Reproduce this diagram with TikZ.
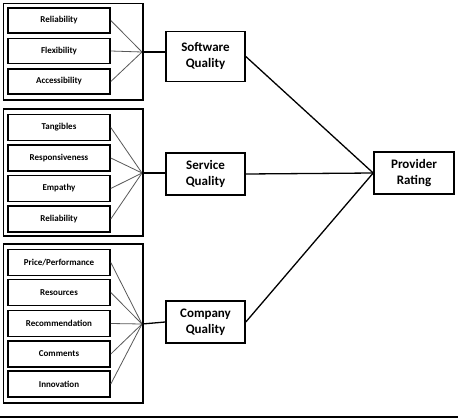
\documentclass[tikz,border=0pt]{standalone}
\usepackage{fontspec}
\setmainfont{Carlito}
\begin{document}
\begin{tikzpicture}[x=1pt,y=-1pt,
  item/.style={draw, line width=1.6pt, minimum width=102pt, minimum height=25pt, inner sep=0pt, font=\bfseries\fontsize{9}{10}\selectfont},
  grp/.style={draw, line width=1.2pt},
  qual/.style={draw, line width=1.6pt, minimum width=79pt, minimum height=42pt, align=center, inner sep=0pt, font=\bfseries\fontsize{13}{16}\selectfont},
  thinlink/.style={draw=black!65, line width=0.8pt},
  link/.style={draw, line width=1.3pt}]
\useasboundingbox (0,0) rectangle (458,418);
\fill[white] (0,0) rectangle (458,418);
% group frames
\draw[grp] (3.5,3.5) rectangle (143,100);
\draw[grp] (3.5,109) rectangle (143,236);
\draw[grp] (3.5,244) rectangle (143,403);
% items group 1
\node[item] (a1) at (59,20.5) {Reliability};
\node[item] (a2) at (59,51) {Flexibility};
\node[item] (a3) at (59,81.5) {Accessibility};
% items group 2
\node[item, minimum height=26pt] (b1) at (59,127.5) {Tangibles};
\node[item, minimum height=26pt] (b2) at (59,158) {Responsiveness};
\node[item, minimum height=26pt] (b3) at (59,188.5) {Empathy};
\node[item, minimum height=26pt] (b4) at (59,219) {Reliability};
% items group 3
\node[item, minimum height=26pt] (c1) at (59,262.5) {Price/Performance};
\node[item, minimum height=26pt] (c2) at (59,292.5) {Resources};
\node[item, minimum height=26pt] (c3) at (59,323.5) {Recommendation};
\node[item, minimum height=26pt] (c4) at (59,354) {Comments};
\node[item, minimum height=26pt] (c5) at (59,384) {Innovation};
% quality boxes
\node[qual, minimum height=50pt] (sw) at (205.5,56.5) {Software\\Quality};
\node[qual] (sv) at (205.5,174) {Service\\Quality};
\node[qual] (cq) at (205.5,322) {Company\\Quality};
\node[qual, minimum width=80pt] (pr) at (414,173) {Provider\\Rating};
% convergence points
\coordinate (p1) at (142,52);
\coordinate (p2) at (142,173);
\coordinate (p3) at (142,324);
% thin links
\foreach \n in {a1,a2,a3} \draw[thinlink] (\n.east) -- (p1);
\foreach \n in {b1,b2,b3,b4} \draw[thinlink] (\n.east) -- (p2);
\foreach \n in {c1,c2,c3,c4,c5} \draw[thinlink] (\n.east) -- (p3);
% links to quality boxes
\draw[link] (p1) -- (sw.west |- p1);
\draw[link] (p2) -- (sw.west |- p2);
\draw[link] (p3) -- (cq.west);
% links to provider
\draw[link] (sw.east) -- (pr.west);
\draw[link] (sv.east) -- (pr.west);
\draw[link] (cq.east) -- (pr.west);
% bottom rule
\coordinate (bl) at (0,416.8);
\coordinate (br) at (458,416.8);
\draw[line width=2pt] (bl) -- (br);
\end{tikzpicture}
\end{document}
